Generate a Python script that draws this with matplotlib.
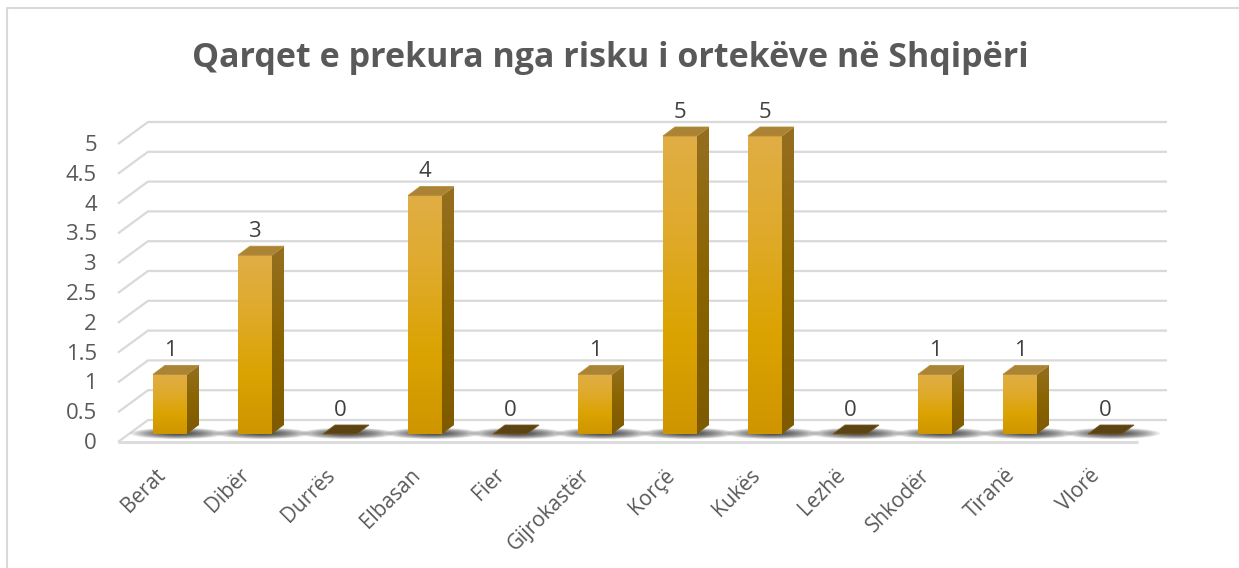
import numpy as np
import matplotlib
matplotlib.use("Agg")
import matplotlib.pyplot as plt
from matplotlib.patches import Polygon, Ellipse
from matplotlib.colors import LinearSegmentedColormap

# ---- data ----
categories = ["Berat", "Dibër", "Durrës", "Elbasan", "Fier", "Gijrokastër",
              "Korçë", "Kukës", "Lezhë", "Shkodër", "Tiranë", "Vlorë"]
values = [1, 3, 0, 4, 0, 1, 5, 5, 0, 1, 1, 0]
yticks = [0, 0.5, 1, 1.5, 2, 2.5, 3, 3.5, 4, 4.5, 5]
ytick_labels = ["0", "0.5", "1", "1.5", "2", "2.5", "3", "3.5", "4", "4.5", "5"]
title = "Qarqet e prekura nga risku i ortekëve në Shqipëri"

# ---- geometry (styling) ----
W_PX, H_PX = 1239, 568
UX = 85.0      # px per category
UY = 59.6      # px per value unit
X0_PX, Y0_PX = 170.0, 434.0   # pixel of category 0 / value 0 (bar plane)

def xd(px):  # pixel -> data x
    return (px - X0_PX) / UX

def yd(py):  # pixel (from top) -> data y
    return (Y0_PX - py) / UY

BW = 34 / UX
DX = 12 / UX
DY = 9 / UY
FRONT_DY = -8 / UY
BACK_DY = 14 / UY
GRID_X_FRONT = xd(118)
GRID_X_BACK = xd(148)
GRID_X_END = xd(1167)
FLOOR_X_END = xd(1138)

FONT = ['Open Sans', 'DejaVu Sans']
plt.rcParams['font.family'] = FONT

fig = plt.figure(figsize=(W_PX / 100, H_PX / 100), dpi=100)
ax = fig.add_axes([0, 0, 1, 1])
ax.set_axis_off()
ax.set_xlim(xd(0), xd(W_PX))
ax.set_ylim(yd(H_PX), yd(0))

grid_c = "#d9d9d9"
for v in yticks:
    ax.plot([GRID_X_FRONT, GRID_X_BACK, GRID_X_END],
            [v + FRONT_DY, v + BACK_DY, v + BACK_DY],
            color=grid_c, lw=1.6, zorder=1, solid_capstyle='butt')
ax.plot([GRID_X_FRONT, FLOOR_X_END], [FRONT_DY, FRONT_DY], color="#dcdcdc",
        lw=2.2, zorder=1.2, solid_capstyle='butt')

front_cmap = LinearSegmentedColormap.from_list("front", ["#cf9500", "#dba300", "#dfaa2a", "#e0ae45"])
side_cmap = LinearSegmentedColormap.from_list("side", ["#7e5a00", "#8a6400", "#956f20"])
grad = np.linspace(0, 1, 256).reshape(-1, 1)

val_texts = []
for i, v in enumerate(values):
    x0, x1 = i - BW / 2, i + BW / 2
    for k in range(16):
        f = 1 - k / 17
        e = Ellipse((i + 0.09, 0.01), (BW + 0.72) * f, 0.19 * f,
                    color="black", alpha=0.07, lw=0, zorder=2)
        ax.add_patch(e)
    if v > 0:
        ax.imshow(grad[::-1], cmap=front_cmap, extent=(x0, x1, 0, v),
                  origin='upper', aspect='auto', interpolation='bicubic', zorder=3)
        side = Polygon([(x1, 0), (x1 + DX, DY), (x1 + DX, v + DY), (x1, v)],
                       closed=True, facecolor="none", edgecolor="none",
                       transform=ax.transData)
        ax.add_patch(side)
        im = ax.imshow(grad[::-1], cmap=side_cmap, extent=(x1, x1 + DX, 0, v + DY),
                       origin='upper', aspect='auto', interpolation='bicubic', zorder=3)
        im.set_clip_path(side)
        top = Polygon([(x0, v), (x1, v), (x1 + DX, v + DY), (x0 + DX, v + DY)],
                      closed=True, facecolor="#aa8434", edgecolor="#b58d3a",
                      lw=0.6, zorder=3.1)
        ax.add_patch(top)
    else:
        slab = Polygon([(x0, 0), (x1, 0), (x1 + DX, DY), (x0 + DX, DY)],
                       closed=True, facecolor="#5c4314", edgecolor="#7a5a1e",
                       lw=0.6, zorder=3.1)
        ax.add_patch(slab)
    val_texts.append(ax.text(i, v + 0.40, str(v), ha='center', va='center',
                             fontsize=14, color="#404040", zorder=4))

tick_texts = []
for v, lab in zip(yticks, ytick_labels):
    tick_texts.append(ax.text(xd(97), v - 0.16, lab, ha='right', va='center',
                              fontsize=14, color="#595959", zorder=4))

cat_texts = []
for i, c in enumerate(categories):
    cat_texts.append(ax.text(i - 0.05, yd(476), c, ha='right', va='baseline',
                             rotation=45, rotation_mode='anchor', fontsize=14,
                             color="#595959", zorder=4))

title_text = ax.text(xd(610), yd(58), title, ha='center', va='center', fontsize=26,
                     fontweight='bold', color="#595959", zorder=4)

ax.plot([xd(7), xd(7), xd(W_PX)], [yd(H_PX), yd(8), yd(8)], color="#d9d9d9",
        lw=1.5, zorder=5, solid_capstyle='butt')

# fit font sizes to the measured reference text extents (pixels)
fig.canvas.draw()
renderer = fig.canvas.get_renderer()

def fit(texts, ref_text, target_w):
    w = ref_text.get_window_extent(renderer).width
    fs = ref_text.get_fontsize() * target_w / w
    for t in texts:
        t.set_fontsize(fs)

fit([title_text], title_text, 840)
fit(cat_texts, cat_texts[categories.index("Gijrokastër")], 89)
fit(tick_texts + val_texts, tick_texts[ytick_labels.index("4.5")], 31)

fig.savefig("out.png", dpi=100)
